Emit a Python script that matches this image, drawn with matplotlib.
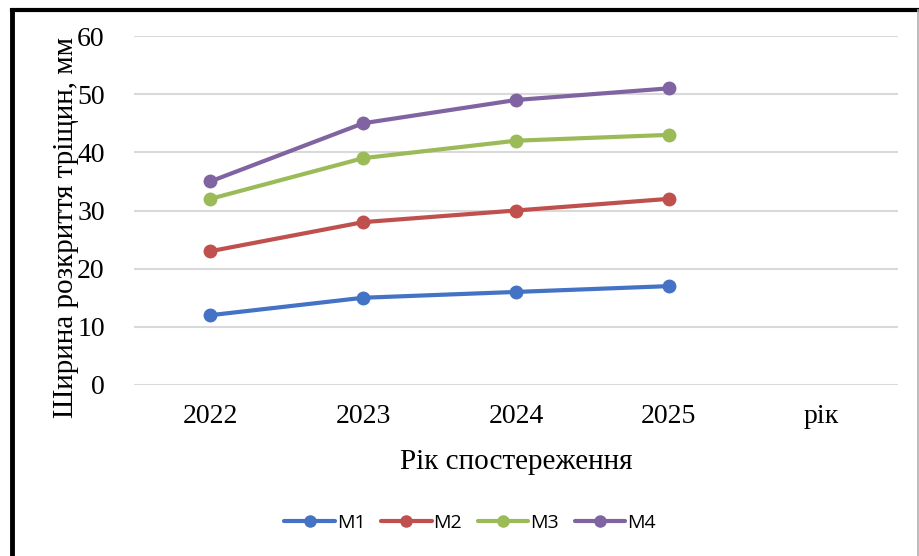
import matplotlib
matplotlib.use("Agg")
import matplotlib.pyplot as plt
from matplotlib.lines import Line2D

categories = ["2022", "2023", "2024", "2025", "рік"]
years = ["2022", "2023", "2024", "2025"]
m1 = [12, 15, 16, 17]
m2 = [23, 28, 30, 32]
m3 = [32, 39, 42, 43]
m4 = [35, 45, 49, 51]
series_names = ["M1", "M2", "M3", "M4"]
colors = ["#4472C4", "#C0504D", "#9BBB59", "#8064A2"]
y_ticks = [0, 10, 20, 30, 40, 50, 60]

serif = ["Liberation Serif", "DejaVu Serif"]
sans = ["Open Sans", "DejaVu Sans"]

fig = plt.figure(figsize=(9.2, 5.56), dpi=100)
ax = fig.add_axes([134/920, 1-385/556, (898-134)/920, (385-36)/556])

x = list(range(len(years)))
for vals, name, c in zip([m1, m2, m3, m4], series_names, colors):
    ax.plot(x, vals, color=c, lw=3, marker="o", ms=9, label=name,
            solid_capstyle="round", zorder=3)

ax.set_xlim(-0.5, len(categories) - 0.5)
ax.set_ylim(0, 60)
ax.set_yticks(y_ticks)
ax.set_xticks(range(len(categories)))
ax.set_xticklabels(categories, fontfamily=serif, fontsize=20)
ax.set_yticklabels([str(v) for v in y_ticks], fontfamily=serif, fontsize=20)
ax.tick_params(axis="both", length=0)
ax.tick_params(axis="y", pad=21)
ax.tick_params(axis="x", pad=14)
ax.grid(axis="y", color="#d9d9d9", lw=1.5, zorder=0)
for s in ax.spines.values():
    s.set_visible(False)

fig.text(516/920, 1-462/556, "Рік спостереження", ha="center", va="center",
         fontfamily=serif, fontsize=21)
fig.text(66/920, 1-228/556, "Ширина розкриття тріщин, мм", ha="center", va="center",
         rotation=90, fontfamily=serif, fontsize=21)

leg = fig.legend(loc="center", bbox_to_anchor=(470/920, 1-523/556), ncol=4,
                 frameon=False, prop={"family": sans, "size": 14},
                 handlelength=2.6, handletextpad=0.1, columnspacing=0.8)
for h in leg.legend_handles:
    h.set_markersize(8)

# outer frame
fig.add_artist(Line2D([11.5/920, 11.5/920], [0, 1-9.5/556], transform=fig.transFigure,
                      color="black", lw=3.5))
fig.add_artist(Line2D([11.5/920, 918/920], [1-9.5/556, 1-9.5/556], transform=fig.transFigure,
                      color="black", lw=3))
fig.add_artist(Line2D([918/920, 918/920], [0, 1-9.5/556], transform=fig.transFigure,
                      color="#b0b0b0", lw=1.2))

fig.savefig("out.png", dpi=100, facecolor="white")
